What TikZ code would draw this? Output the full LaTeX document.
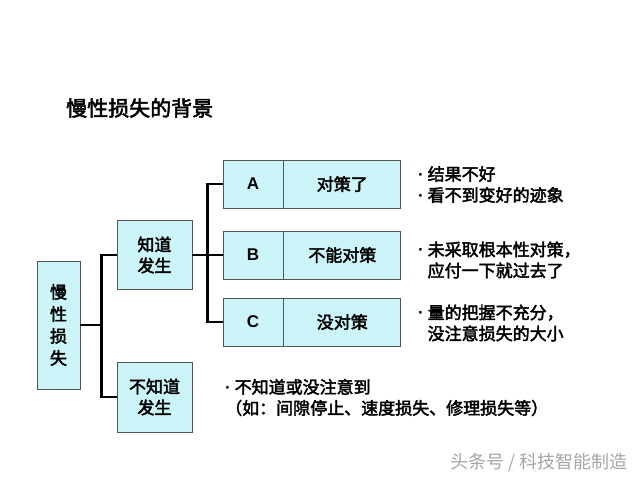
\documentclass[tikz,border=0pt]{standalone}
\usepackage{fontspec}
\setmainfont{Noto Sans CJK SC}[FakeBold=2.5]
\newfontfamily\latinfont{Liberation Sans}
\newfontfamily\plainfont{Noto Sans CJK SC}
\usepackage{tikz}
\usetikzlibrary{positioning}

\definecolor{boxfill}{RGB}{204,245,250}
\definecolor{boxline}{RGB}{85,85,85}
\definecolor{markgray}{RGB}{165,165,165}

\newcommand{\bul}{{\latinfont\bfseries·}\ }

\begin{document}
\begin{tikzpicture}[x=1pt, y=-1pt,
  every node/.style={inner sep=0pt, font=\fontsize{17}{21}\selectfont},
  cell/.style={draw=boxline, line width=0.8pt, fill=boxfill, align=center},
  conn/.style={line width=2.6pt, line join=miter},
  note/.style={anchor=west, align=left}
]
\useasboundingbox (0,0) rectangle (640,480);

% Title
\node[anchor=west, font=\fontsize{21}{24}\selectfont] (title) at (66,108) {慢性损失的背景};

% Left boxes
\node[cell, minimum width=43pt, minimum height=128pt, font=\fontsize{17}{22}\selectfont] (loss) at (58.5,325) {慢\\性\\损\\失};
\node[cell, minimum width=75pt, minimum height=69pt] (known) at (154.5,255) {知道\\发生};
\node[cell, minimum width=75pt, minimum height=70pt] (unknown) at (154.5,397) {不知道\\发生};

% Cases A, B, C
\node[cell, minimum width=60pt, minimum height=48pt, font=\latinfont\bfseries\fontsize{17}{21}\selectfont] (caseA) at (253,184) {A};
\node[cell, minimum width=117pt, minimum height=48pt, right=0pt of caseA] (textA) {对策了};
\node[cell, minimum width=60pt, minimum height=48pt, font=\latinfont\bfseries\fontsize{17}{21}\selectfont] (caseB) at (253,255) {B};
\node[cell, minimum width=117pt, minimum height=48pt, right=0pt of caseB] (textB) {不能对策};
\node[cell, minimum width=60pt, minimum height=48pt, font=\latinfont\bfseries\fontsize{17}{21}\selectfont] (caseC) at (253,322) {C};
\node[cell, minimum width=117pt, minimum height=48pt, right=0pt of caseC] (textC) {没对策};

% Notes
\node[note] (noteA) at (418,184.5) {\bul 结果不好\\\bul 看不到变好的迹象};
\node[note] (noteB) at (418,260) {\bul 未采取根本性对策，\\\hphantom{\bul}应付一下就过去了};
\node[note] (noteC) at (418,323) {\bul 量的把握不充分，\\\hphantom{\bul}没注意损失的大小};
\node[note] (noteU) at (225,397.5) {\bul 不知道或没注意到\\（如：间隙停止、速度损失、修理损失等）};

% Connectors
\draw[conn] (loss.east) -- ++(21,0) coordinate (forkL) |- (known.west);
\draw[conn] (forkL) |- (unknown.west);
\draw[conn] (known.east) -- ++(15,0) coordinate (forkR) |- (caseA.west);
\draw[conn] (forkR) -- (caseB.west);
\draw[conn] (forkR) |- (caseC.west);

% Watermark
\node[anchor=east, text=markgray, font=\plainfont\fontsize{18}{21}\selectfont] (mark) at (628,463) {头条号 / 科技智能制造};
\end{tikzpicture}
\end{document}
